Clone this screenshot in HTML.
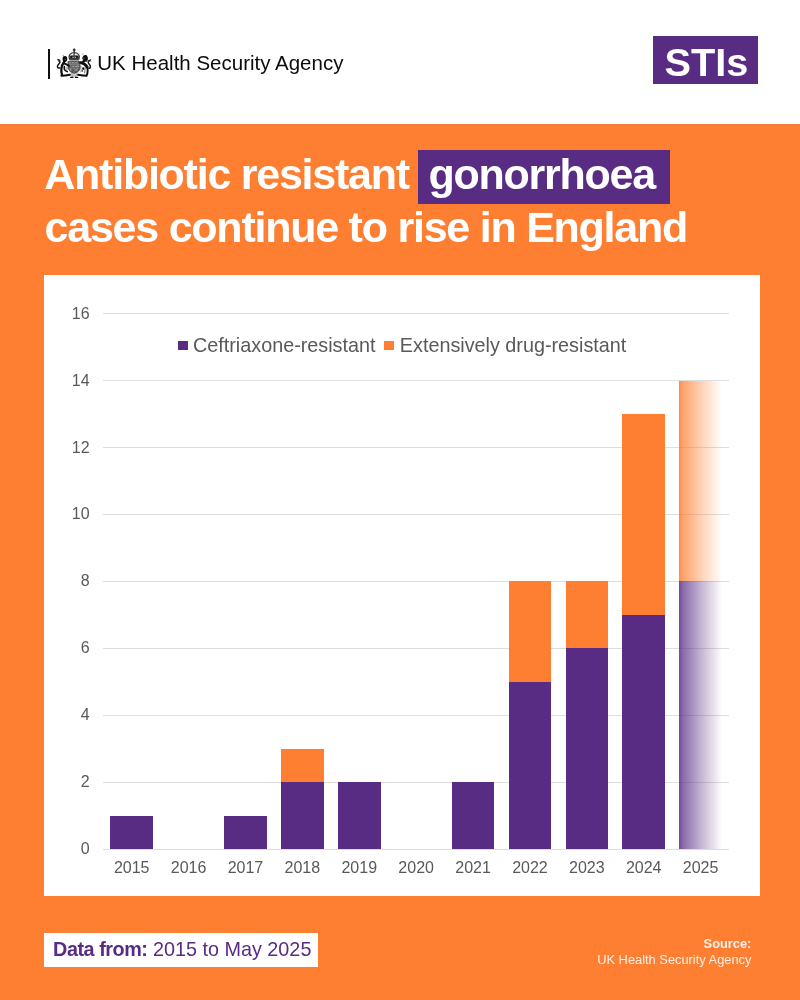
<!DOCTYPE html>
<html>
<head>
<meta charset="utf-8">
<title>Antibiotic resistant gonorrhoea cases continue to rise in England</title>
<style>
  html, body { margin: 0; padding: 0; }
  body {
    width: 800px; height: 1000px; position: relative; overflow: hidden;
    background: #FE7F32;
    font-family: "Liberation Sans", sans-serif;
  }
  #wrap { position: absolute; left: 0; top: 0; width: 800px; height: 1000px; will-change: transform; }
  .abs { position: absolute; white-space: nowrap; }
  #header { left: 0; top: 0; width: 800px; height: 124.3px; background: #fff; }
  #hshadow { left: 0; top: 124.3px; width: 800px; height: 1.5px; background: #EC8040; }
  #vbar { left: 48px; top: 48.5px; width: 2px; height: 30px; background: #111; }
  #crest { left: 52px; top: 44px; width: 44px; height: 38px; }
  #agency { left: 97.3px; top: 51.4px; font-size: 20.5px; line-height: 23px; color: #0b0c0c; }
  #stis { left: 652.5px; top: 36.3px; width: 105.6px; height: 47.9px; background: #582C83; }
  #stistxt { left: 664.5px; top: 38.7px; font-size: 39.7px; line-height: 46px; font-weight: 700; color: #fff; }
  .title { font-size: 43px; line-height: 48px; font-weight: 700; color: #fff; letter-spacing: -1.25px; }
  #t1 { left: 44.3px; top: 150.1px; }
  #t2 { left: 44.6px; top: 202.6px; letter-spacing: -1.24px; }
  #gbox { left: 418px; top: 150.2px; width: 251.8px; height: 53.5px; background: #582C83; }
  #t1b { left: 428.5px; top: 150.1px; }
  #panel { left: 44px; top: 275px; width: 715.5px; height: 620.7px; background: #fff; }
  .grid { left: 103.1px; width: 625.8px; height: 1px; background: #DEDEDE; }
  .ylab { width: 40px; left: 49.6px; text-align: right; font-size: 16px; line-height: 18px; color: #595959; }
  .xlab { width: 57px; text-align: center; font-size: 16px; line-height: 18px; color: #595959; top: 858.6px; }
  .bar { width: 42.6px; }
  .p { background: #582C83; }
  .o { background: #FE7F32; }
  .pg { background: linear-gradient(to right, rgba(88,44,131,0.86) 0%, rgba(88,44,131,0.70) 9%, rgba(88,44,131,0.36) 50%, rgba(88,44,131,0.10) 86%, rgba(88,44,131,0.0) 100%); }
  .og { background: linear-gradient(to right, rgba(254,127,50,0.90) 0%, rgba(254,127,50,0.72) 9%, rgba(254,127,50,0.37) 50%, rgba(254,127,50,0.10) 86%, rgba(254,127,50,0.0) 100%); }
  .leg { font-size: 19.8px; line-height: 23px; color: #595959; top: 334.0px; }
  .sq { width: 9.8px; height: 9.5px; top: 340.7px; }
  #dbox { left: 43.6px; top: 933.2px; width: 274.4px; height: 33.4px; background: #fff; }
  #dtxt { left: 53.1px; top: 938.0px; font-size: 19.8px; line-height: 23px; color: #582C83; }
  #dtxt b { letter-spacing: -0.45px; }
  #src { right: 48.6px; text-align: right; color: rgba(255,255,255,0.88); font-size: 12.85px; line-height: 15.5px; top: 936.4px; }
</style>
</head>
<body>
<div id="wrap">
  <div id="header" class="abs"></div>
  <div id="hshadow" class="abs"></div>
  <div id="vbar" class="abs"></div>
  <svg id="crest" class="abs" viewBox="0 0 44 38"><defs><filter id="bl" x="-10%" y="-10%" width="120%" height="120%"><feGaussianBlur stdDeviation="0.33"/></filter></defs>
<g transform="translate(-52,-44)" filter="url(#bl)" fill="none" stroke-linecap="round" stroke-linejoin="round">
  <!-- shield / garter -->
  <path d="M68.4 61.6 H80 V67.5 C80 71 77 72.8 74.2 73.4 C71.4 72.8 68.4 71 68.4 67.5 z" fill="#565656" stroke="#383838" stroke-width="0.9"/>
  <path d="M71 61.6 V71.2 M74.2 61.4 V72.6 M77.4 61.6 V71.2 M69 64.4 H79.4 M69 68.2 H79.4" stroke="#8c8c8c" stroke-width="0.7"/>
  <path d="M69.7 62.8 h0.7 M72.3 62.8 h1 M75.5 62.8 h1 M72.5 66.3 h0.8 M75.7 66.3 h1.1 M78.3 66.2 h0.6 M70 69.8 h0.7 M75.5 70 h1" stroke="#d2d2d2" stroke-width="0.85"/>
  <!-- crown -->
  <path d="M74.2 48.9 V52 M73.3 49.9 H75.1" stroke="#222" stroke-width="1.35"/>
  <path d="M69.6 59 C66 50.6 82.4 50.6 78.8 59 z" fill="#f2f2f2" stroke="#3a3a3a" stroke-width="1.15"/>
  <path d="M69 55.8 C71 54.9 77.4 54.9 79.4 55.8 L78.8 59 H69.6 z" fill="#484848"/>
  <path d="M74.2 52 V58.8" stroke="#454545" stroke-width="1.3"/>
  <circle cx="71.5" cy="56.9" r="1.1" fill="#141414"/><circle cx="76.9" cy="56.9" r="1.1" fill="#141414"/>
  <path d="M72.9 57.5 h0.3 M75.3 57.5 h0.3" stroke="#c8c8c8" stroke-width="0.8"/>
  <path d="M69.6 59.1 H78.8" stroke="#2a2a2a" stroke-width="1.3"/><path d="M70 60.5 H78.4" stroke="#9a9a9a" stroke-width="0.9"/>
  <!-- lion (left) -->
  <circle cx="63.3" cy="55.7" r="0.85" fill="#b5b5b5"/>
  <ellipse cx="64.9" cy="58.9" rx="2.35" ry="2.8" fill="#0d0d0d"/>
  <circle cx="65.2" cy="59.6" r="0.75" fill="#555"/>
  <path d="M58 59.3 l2.2 0.8 l-1.5 1 z" fill="#0d0d0d" stroke="#0d0d0d" stroke-width="0.7"/>
  <path d="M59.8 61 C61 63.5 57.2 64.6 57.4 66.6 C57.5 67.8 58.6 68.3 59.6 67.8" stroke="#0d0d0d" stroke-width="1.4"/>
  <path d="M64.6 61 C63.2 63 61.6 65.6 61.4 68.6 C61.2 71 61.4 73 62 74.6" stroke="#0d0d0d" stroke-width="2.3"/>
  <path d="M63.6 63.4 C65.4 63.2 67.2 64.8 68.8 65.6" stroke="#0d0d0d" stroke-width="2"/>
  <path d="M64.4 66.6 C63.8 68.6 64.6 70.8 67.2 71.6" stroke="#0d0d0d" stroke-width="1.6"/>
  <path d="M66.2 67.2 V69.6 M67.5 66.8 V69" stroke="#8a8a8a" stroke-width="0.8"/>
  <path d="M61.4 75.7 C64.4 75.7 67.4 75.2 70 74.7" stroke="#0d0d0d" stroke-width="2"/>
  <!-- unicorn (right) -->
  <path d="M83.8 56.4 L82.2 53.2" stroke="#b8b8b8" stroke-width="0.7"/>
  <path d="M82.8 58.4 C83 56.2 85 54.8 86.4 55.8 C87.5 57.2 87.5 59.6 86.4 61.2 C85.2 61 83.6 60 82.8 58.4 z" fill="#0d0d0d" stroke="#0d0d0d" stroke-width="1.1"/>
  <circle cx="84" cy="58.2" r="0.7" fill="#666"/>
  <path d="M84.4 60.6 L82.6 62.4" stroke="#0d0d0d" stroke-width="2.4"/>
  <path d="M88.2 60.7 l2.5 -1.1 l-0.7 1.7 z" fill="#0d0d0d" stroke="#0d0d0d" stroke-width="0.7"/>
  <path d="M88.2 61.6 C87.6 63.8 90.6 64.6 90.4 66.6 C90.3 67.8 89.6 68.4 88.8 68.2" stroke="#0d0d0d" stroke-width="1.4"/>
  <path d="M81 62.6 C83.2 63 85.6 64.6 87.2 67" stroke="#0d0d0d" stroke-width="2.9"/>
  <ellipse cx="83.3" cy="68.6" rx="1.1" ry="1.4" fill="#0d0d0d"/>
  <path d="M83 69.6 L82.2 71.6" stroke="#333" stroke-width="1"/>
  <path d="M87 67 C87.8 69 88 71.4 87.4 73.2 C87.2 74.2 86.8 75 86.4 75.4" stroke="#0d0d0d" stroke-width="1.9"/>
  <path d="M85.3 67.2 L84.7 72.8" stroke="#5c5c5c" stroke-width="0.9"/>
  <path d="M81 66 V70.4 M82 70.4 L80.4 72.2" stroke="#7a7a7a" stroke-width="0.8"/>
  <path d="M78 74.7 C80.6 75.2 83.6 75.7 86.6 75.7" stroke="#0d0d0d" stroke-width="2"/>
  <!-- base -->
  <path d="M71.2 73 C72.6 74.4 75.8 74.4 77.2 73 L76.6 76.6 H71.8 z" fill="#a8a8a8" stroke="#a8a8a8" stroke-width="0.5"/>
  <path d="M73 74.6 h0.8 M75.1 74.6 h0.8 M73.9 76 h0.8" stroke="#efefef" stroke-width="0.9"/>
  <path d="M70.6 77.3 h2.4 M75.4 77.3 h2.4" stroke="#0d0d0d" stroke-width="1.2"/>
</g>
</svg>
  <div id="agency" class="abs">UK Health Security Agency</div>
  <div id="stis" class="abs"></div>
  <div id="stistxt" class="abs">STIs</div>

  <div id="gbox" class="abs"></div>
  <div id="t1" class="abs title">Antibiotic resistant</div>
  <div id="t1b" class="abs title">gonorrhoea</div>
  <div id="t2" class="abs title">cases continue to rise in England</div>

  <div id="panel" class="abs"></div>
  <div class="abs grid" style="top:848.50px"></div>
  <div class="abs ylab" style="top:840.10px">0</div>
  <div class="abs grid" style="top:781.58px"></div>
  <div class="abs ylab" style="top:773.18px">2</div>
  <div class="abs grid" style="top:714.65px"></div>
  <div class="abs ylab" style="top:706.25px">4</div>
  <div class="abs grid" style="top:647.73px"></div>
  <div class="abs ylab" style="top:639.33px">6</div>
  <div class="abs grid" style="top:580.80px"></div>
  <div class="abs ylab" style="top:572.40px">8</div>
  <div class="abs grid" style="top:513.88px"></div>
  <div class="abs ylab" style="top:505.48px">10</div>
  <div class="abs grid" style="top:446.95px"></div>
  <div class="abs ylab" style="top:438.55px">12</div>
  <div class="abs grid" style="top:380.03px"></div>
  <div class="abs ylab" style="top:371.63px">14</div>
  <div class="abs grid" style="top:313.10px"></div>
  <div class="abs ylab" style="top:304.70px">16</div>
  <div class="abs bar p" style="left:110.45px;top:815.54px;height:33.46px"></div>
  <div class="abs xlab" style="left:103.20px">2015</div>
  <div class="abs xlab" style="left:160.09px">2016</div>
  <div class="abs bar p" style="left:224.23px;top:815.54px;height:33.46px"></div>
  <div class="abs xlab" style="left:216.98px">2017</div>
  <div class="abs bar p" style="left:281.12px;top:782.08px;height:66.92px"></div>
  <div class="abs bar o" style="left:281.12px;top:748.61px;height:33.46px"></div>
  <div class="abs xlab" style="left:273.87px">2018</div>
  <div class="abs bar p" style="left:338.01px;top:782.08px;height:66.92px"></div>
  <div class="abs xlab" style="left:330.76px">2019</div>
  <div class="abs xlab" style="left:387.65px">2020</div>
  <div class="abs bar p" style="left:451.79px;top:782.08px;height:66.92px"></div>
  <div class="abs xlab" style="left:444.55px">2021</div>
  <div class="abs bar p" style="left:508.68px;top:681.69px;height:167.31px"></div>
  <div class="abs bar o" style="left:508.68px;top:581.30px;height:100.39px"></div>
  <div class="abs xlab" style="left:501.44px">2022</div>
  <div class="abs bar p" style="left:565.57px;top:648.23px;height:200.77px"></div>
  <div class="abs bar o" style="left:565.57px;top:581.30px;height:66.92px"></div>
  <div class="abs xlab" style="left:558.33px">2023</div>
  <div class="abs bar p" style="left:622.46px;top:614.76px;height:234.24px"></div>
  <div class="abs bar o" style="left:622.46px;top:413.99px;height:200.77px"></div>
  <div class="abs xlab" style="left:615.22px">2024</div>
  <div class="abs bar pg" style="left:679.35px;top:581.30px;height:267.70px"></div>
  <div class="abs bar og" style="left:679.35px;top:380.53px;height:200.77px"></div>
  <div class="abs xlab" style="left:672.11px">2025</div>
  <div class="abs sq p" style="left:178.3px"></div>
  <div class="abs leg" style="left:193.0px">Ceftriaxone-resistant</div>
  <div class="abs sq o" style="left:384.4px"></div>
  <div class="abs leg" style="left:399.8px">Extensively drug-resistant</div>

  <div id="dbox" class="abs"></div>
  <div id="dtxt" class="abs"><b>Data from:</b> 2015 to May 2025</div>
  <div id="src" class="abs"><b>Source:</b><br>UK Health Security Agency</div>
</div>
</body>
</html>
